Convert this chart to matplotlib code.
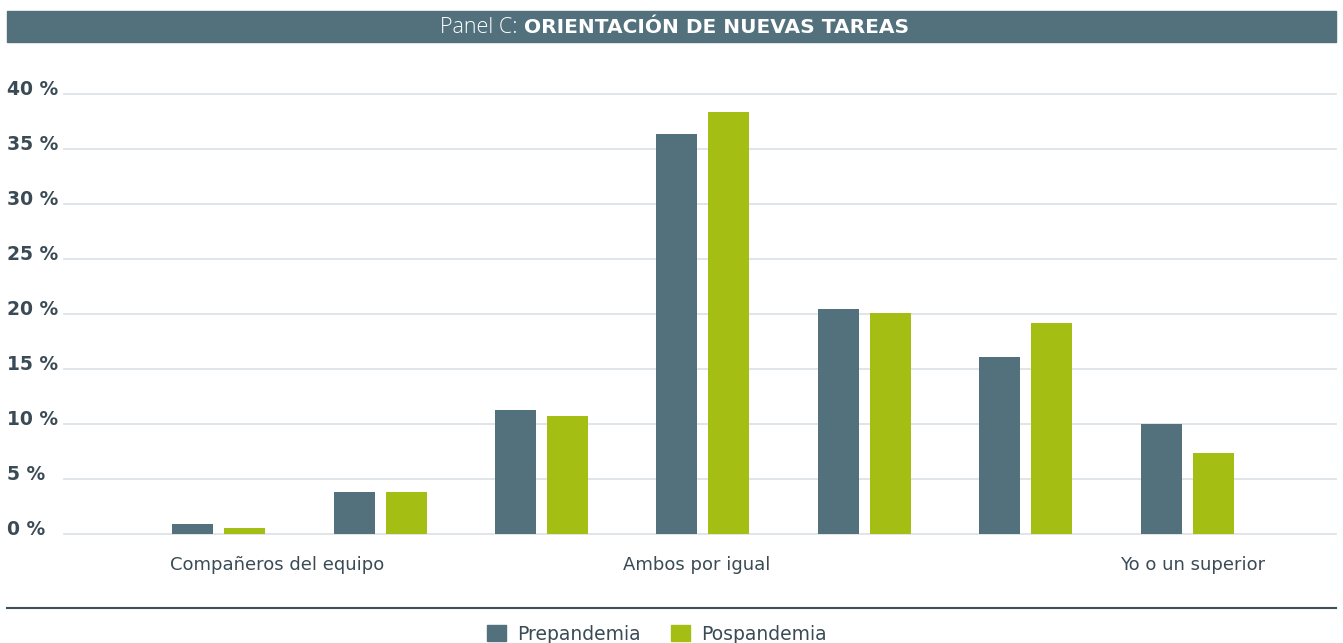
import matplotlib
matplotlib.use("Agg")
import matplotlib.pyplot as plt
import numpy as np
from matplotlib.patches import Rectangle, Patch
from matplotlib.lines import Line2D

# datos (% de respuestas, escala 1-7)
escala = [1, 2, 3, 4, 5, 6, 7]
prepandemia = [0.9, 3.8, 11.3, 36.4, 20.5, 16.1, 10.0]
pospandemia = [0.55, 3.8, 10.7, 38.4, 20.1, 19.2, 7.35]
etiquetas_x = ["Compañeros del equipo", "Ambos por igual", "Yo o un superior"]
pos_etiquetas = [1.36, 3.96, 7.03]
ticks_y = [0, 5, 10, 15, 20, 25, 30, 35, 40]

AZUL = "#52717c"
VERDE = "#a4be13"
TEXTO = "#3a4b55"
GRID = "#dde3e7"

plt.rcParams["font.family"] = ["DejaVu Sans"]

W, H = 1343, 643
fig = plt.figure(figsize=(W / 100, H / 100), dpi=100)

def fx(px):
    return px / W

def fy(px):
    return 1 - px / H

ax = fig.add_axes([fx(64), fy(534), fx(1336) - fx(64), fy(94) - fy(534)])

x = np.array(escala, dtype=float)
w = 0.254
off = 0.161
ax.bar(x - off, prepandemia, width=w, color=AZUL, zorder=3)
ax.bar(x + off, pospandemia, width=w, color=VERDE, zorder=3)

ax.set_xlim(0.043, 7.92)
ax.set_ylim(0, 40)
ax.set_yticks(ticks_y)
ax.yaxis.grid(True, color=GRID, lw=1.3, zorder=0)
for gl in ax.get_ygridlines():
    gl.set_clip_on(False)
ax.set_yticklabels([])
ax.tick_params(axis="both", length=0)
for s in ax.spines.values():
    s.set_visible(False)

for v in ticks_y:
    ax.annotate(f"{v} %", xy=(0, v), xycoords=ax.get_yaxis_transform(),
                xytext=(-57 * 0.72, 4.5 * 0.72), textcoords="offset points",
                ha="left", va="center", fontsize=13.5, fontweight="bold",
                color=TEXTO, annotation_clip=False)

ax.set_xticks(pos_etiquetas)
ax.set_xticklabels(etiquetas_x, fontsize=13, color=TEXTO)
ax.tick_params(axis="x", pad=16)

# barra de título
fig.patches.append(Rectangle((fx(7), fy(42)), fx(1336) - fx(7), fy(11) - fy(42),
                             transform=fig.transFigure, color=AZUL, zorder=0))
fig.text(fx(517), fy(33), "Panel C:", ha="right", va="baseline",
         fontsize=15.5, color="white", fontweight="light",
         family=["Open Sans", "DejaVu Sans"])
fig.text(fx(524), fy(33), "ORIENTACIÓN DE NUEVAS TAREAS", ha="left",
         va="baseline", fontsize=14.5, color="white", fontweight="bold")

# línea separadora inferior
fig.lines.append(Line2D([fx(7), fx(1336)], [fy(608), fy(608)],
                        transform=fig.transFigure, color="#3d505a", lw=1.5))

handles = [Patch(color=AZUL, label="Prepandemia"),
           Patch(color=VERDE, label="Pospandemia")]
fig.legend(handles=handles, loc="center", bbox_to_anchor=(fx(657), fy(634)),
           ncol=2, frameon=False, fontsize=13.5, labelcolor=TEXTO,
           handlelength=1.0, handleheight=1.0, handletextpad=0.6,
           columnspacing=1.6, borderpad=0)

fig.savefig("out.png", dpi=100)
